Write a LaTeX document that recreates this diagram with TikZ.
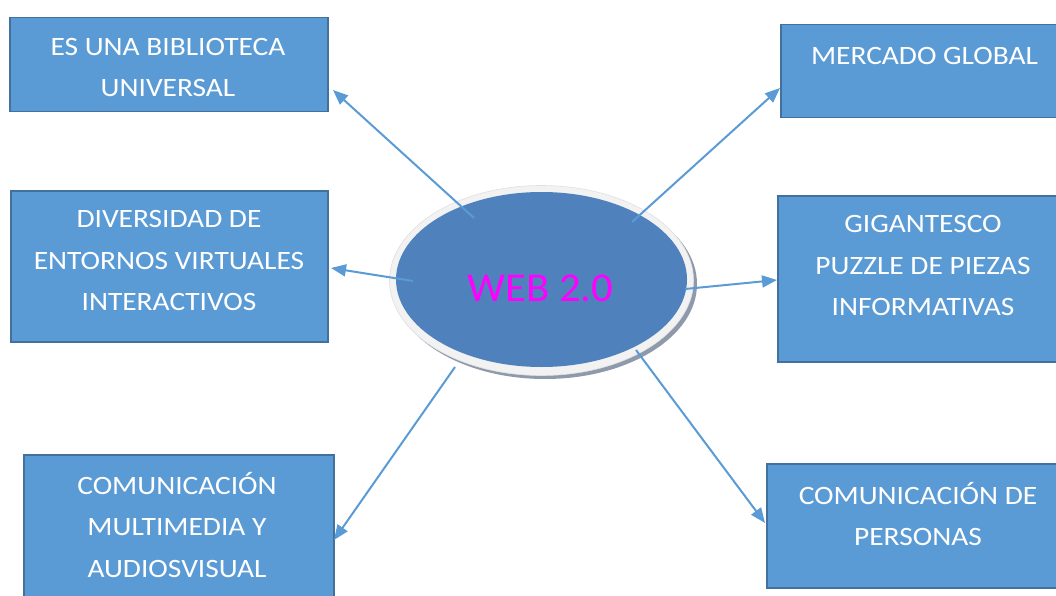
\documentclass[tikz,border=0pt]{standalone}
\usepackage{fontspec}
\setmainfont{Carlito}
\newfontfamily\boxfont{Carlito}[FakeStretch=1.11]
\newfontfamily\webfont{Carlito}[FakeStretch=1.04]
\usetikzlibrary{shapes.geometric,arrows.meta}
\definecolor{boxfill}{HTML}{5B9BD5}
\definecolor{boxline}{HTML}{41719C}
\definecolor{ellfill}{HTML}{4F81BD}
\definecolor{rimfill}{HTML}{F2F2F2}
\definecolor{shadowc}{HTML}{8E99AB}
\definecolor{webtxt}{HTML}{FF00FF}
\tikzset{
  box/.style={draw=boxline, line width=1.5pt, fill=boxfill, rectangle, anchor=north west, inner sep=0pt},
  boxtext/.style={text=white, align=center, inner sep=0pt, font=\boxfont\fontsize{26.5}{41.5}\selectfont},
  conn/.style={draw=boxfill, line width=2pt, -{Triangle[length=15pt,width=12pt]}},
}
\begin{document}
\begin{tikzpicture}[x=1pt,y=-1pt]
\useasboundingbox (0,0) rectangle (1056,596);
\clip (0,0) rectangle (1056,596);
% boxes
\node[box, minimum width=318, minimum height=94] (b1) at (9,17) {};
\node[box, minimum width=317, minimum height=151] (b2) at (10,190) {};
\node[box, minimum width=310, minimum height=160] (b3) at (23,454) {};
\node[box, minimum width=300, minimum height=93] (r1) at (780,24) {};
\node[box, minimum width=300, minimum height=166] (r2) at (777,195) {};
\node[box, minimum width=310, minimum height=124] (r3) at (766,463) {};
% texts
\node[boxtext] (b1t) at (168,67.5) {ES UNA BIBLIOTECA\\UNIVERSAL};
\node[boxtext] (b2t) at (169,260.5) {DIVERSIDAD DE\\ENTORNOS VIRTUALES\\INTERACTIVOS};
\node[boxtext] (b3t) at (177,525) {COMUNICACIÓN\\MULTIMEDIA Y\\AUDIOSVISUAL};
\node[boxtext] (r1t) at (924.5,56) {MERCADO GLOBAL};
\node[boxtext] (r2t) at (923,265.5) {GIGANTESCO\\PUZZLE DE PIEZAS\\INFORMATIVAS};
\node[boxtext] (r3t) at (918,514) {COMUNICACIÓN DE\\PERSONAS};
% ellipse
\node[ellipse, fill=shadowc, minimum width=304, minimum height=190, inner sep=0pt] (es) at (545,284) {};
\node[ellipse, fill=rimfill, draw=black!12, line width=0.6pt, minimum width=304, minimum height=190, inner sep=0pt] (er) at (541.5,280.5) {};
\node[ellipse, fill=ellfill, minimum width=291, minimum height=175, inner sep=0pt] (e) at (541.5,279.5) {};
\node[text=webtxt, inner sep=0pt, font=\webfont\fontsize{41}{48}\selectfont] (web) at (540.5,288) {WEB 2.0};
% connector coordinates
\coordinate (s1) at (474,218);
\coordinate (t1) at (333,90);
\coordinate (s2) at (632,222);
\coordinate (t2) at (780,88);
\coordinate (s3) at (413,281);
\coordinate (t3) at (331,268);
\coordinate (s4) at (685,289);
\coordinate (t4) at (777,280);
\coordinate (s5) at (455,367);
\coordinate (t5) at (334,540);
\coordinate (s6) at (636,350);
\coordinate (t6) at (765,523);
\draw[conn] (s1) -- (t1);
\draw[conn] (s2) -- (t2);
\draw[conn] (s3) -- (t3);
\draw[conn] (s4) -- (t4);
\draw[conn] (s5) -- (t5);
\draw[conn] (s6) -- (t6);
\end{tikzpicture}
\end{document}
